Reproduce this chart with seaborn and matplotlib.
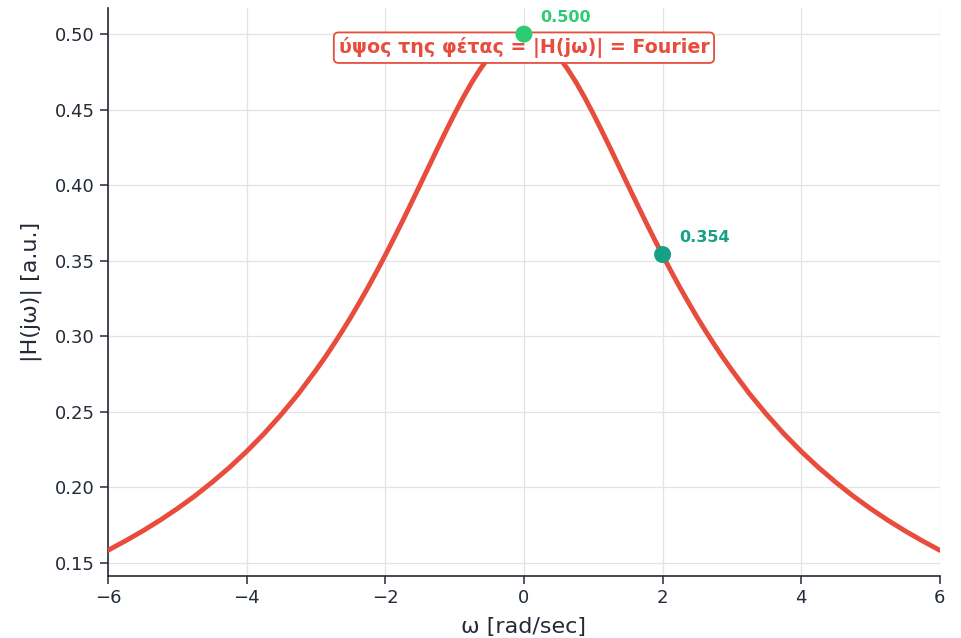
import numpy as np
import pandas as pd
import matplotlib
matplotlib.use("Agg")
import matplotlib.pyplot as plt
import seaborn as sns

# Magnitude response samples |H(jω)| over ω in rad/sec
omega = [-6.0, -5.75, -5.5, -5.25, -5.0, -4.75, -4.5, -4.25, -4.0, -3.75, -3.5, -3.25,
         -3.0, -2.875, -2.75, -2.625, -2.5, -2.375, -2.25, -2.125, -2.0, -1.875, -1.75,
         -1.625, -1.5, -1.375, -1.25, -1.125, -1.0, -0.875, -0.75, -0.625, -0.5, -0.375,
         -0.25, -0.125, 0.0, 0.125, 0.25, 0.375, 0.5, 0.625, 0.75, 0.875, 1.0, 1.125,
         1.25, 1.375, 1.5, 1.625, 1.75, 1.875, 2.0, 2.125, 2.25, 2.375, 2.5, 2.625, 2.75,
         2.875, 3.0, 3.25, 3.5, 3.75, 4.0, 4.25, 4.5, 4.75, 5.0, 5.25, 5.5, 5.75, 6.0]
magnitude = [0.1581, 0.1643, 0.1709, 0.1780, 0.1857, 0.1940, 0.2031, 0.2129, 0.2236,
             0.2353, 0.2481, 0.2620, 0.2774, 0.2855, 0.2941, 0.3030, 0.3123, 0.3221,
             0.3322, 0.3427, 0.3536, 0.3648, 0.3763, 0.3881, 0.4000, 0.4120, 0.4240,
             0.4358, 0.4472, 0.4581, 0.4682, 0.4772, 0.4851, 0.4914, 0.4961, 0.4990,
             0.5000, 0.4990, 0.4961, 0.4914, 0.4851, 0.4772, 0.4682, 0.4581, 0.4472,
             0.4358, 0.4240, 0.4120, 0.4000, 0.3881, 0.3763, 0.3648, 0.3536, 0.3427,
             0.3322, 0.3221, 0.3123, 0.3030, 0.2941, 0.2855, 0.2774, 0.2620, 0.2481,
             0.2353, 0.2236, 0.2129, 0.2031, 0.1940, 0.1857, 0.1780, 0.1709, 0.1643,
             0.1581]

# Highlighted points
peak_w, peak_v = 0.0, 0.500
cut_w, cut_v = 2.0, 0.354

title_text = "ύψος της φέτας = |H(jω)| = Fourier"

sns.set_theme(style="whitegrid")
plt.rcParams["font.family"] = ["DejaVu Sans"]
ink = "#222b36"
plt.rcParams.update({
    "axes.edgecolor": ink,
    "axes.labelcolor": ink,
    "xtick.color": ink,
    "ytick.color": ink,
    "grid.color": "#e3e3e3",
})

fig, ax = plt.subplots(figsize=(9.61, 6.38), dpi=100)
fig.subplots_adjust(left=0.1124, right=0.978, top=0.987, bottom=0.097)

df = pd.DataFrame({"w": omega, "H": magnitude})
sns.lineplot(data=df, x="w", y="H", ax=ax, color="#e74c3c", linewidth=3.5, zorder=3)

ax.set_xlim(-6, 6)
ax.set_xlabel("ω [rad/sec]", fontsize=16, labelpad=7)
ax.set_ylabel("|H(jω)| [a.u.]", fontsize=16, labelpad=9)
ax.tick_params(axis="both", labelsize=13, length=6, width=1.1, left=True, bottom=True)
ax.grid(True, linewidth=0.9)
for s in ["top", "right"]:
    ax.spines[s].set_visible(False)
for s in ["left", "bottom"]:
    ax.spines[s].set_linewidth(1.2)

ax.text(0, 0.491, title_text, ha="center", va="center", fontsize=13.7,
        fontweight="bold", color="#e74c3c", zorder=5,
        bbox=dict(boxstyle="round,pad=0.25", fc="white", ec="#e74c3c", lw=1.3))

ax.scatter([peak_w], [peak_v], s=150, color="#2ecc71", zorder=6, edgecolor="none")
ax.annotate(f"{peak_v:.3f}", (peak_w, peak_v), xytext=(12, 9), textcoords="offset points",
            fontsize=11.5, fontweight="bold", color="#2ecc71", zorder=6)
ax.scatter([cut_w], [cut_v], s=150, color="#16a085", zorder=6, edgecolor="none")
ax.annotate(f"{cut_v:.3f}", (cut_w, cut_v), xytext=(12, 9), textcoords="offset points",
            fontsize=11.5, fontweight="bold", color="#16a085", zorder=6)

fig.savefig("out.png", dpi=100, facecolor="white")
